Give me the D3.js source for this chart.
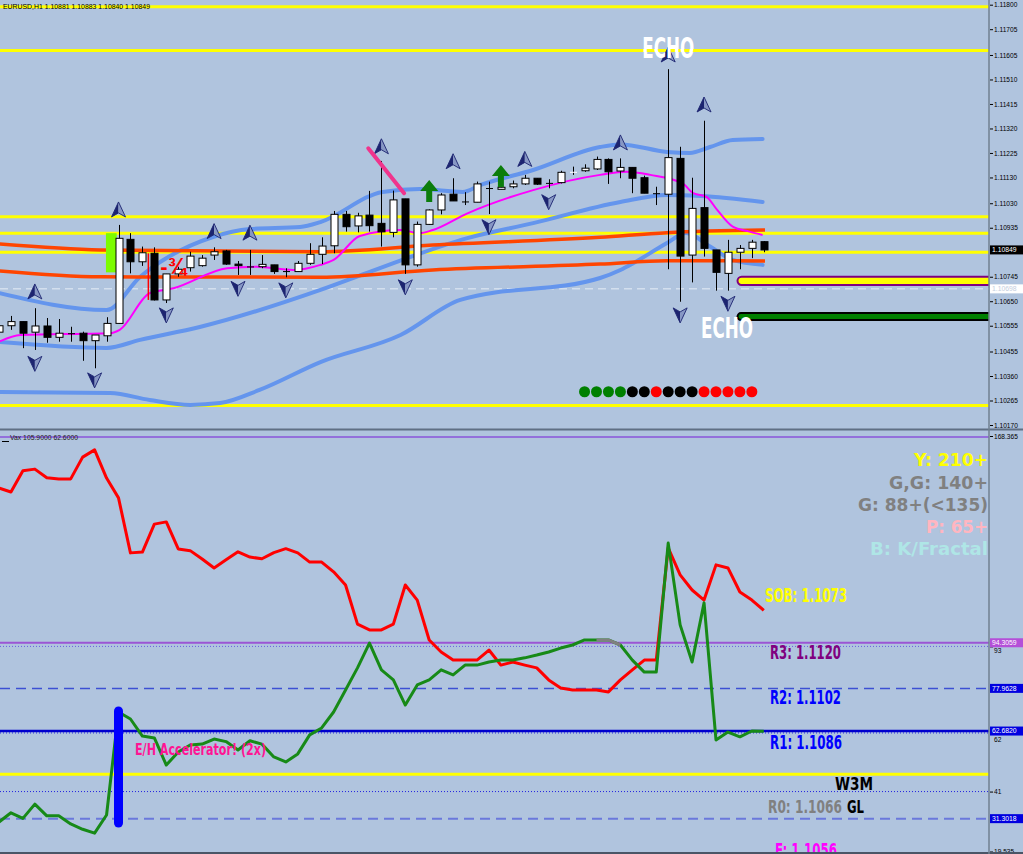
<!DOCTYPE html>
<html>
<head>
<meta charset="utf-8">
<title>EURUSD,H1</title>
<script src="https://cdn.jsdelivr.net/npm/d3@7/dist/d3.min.js"></script>
<style>
  html, body { margin: 0; padding: 0; background: #b0c4de; }
  svg { display: block; }
  .tick text { font-family: "Liberation Sans", Arial, sans-serif; font-size: 6.6px; fill: #000; }
  .tick line { stroke: #000; }
  .narrow { font-family: "Liberation Sans Narrow", "DejaVu Sans Condensed", "Arial Narrow", sans-serif; font-weight: bold; }
  .wide { font-family: "DejaVu Sans", Verdana, sans-serif; font-weight: bold; }
</style>
</head>
<body>
<svg id="chart" width="1023" height="854"></svg>
<script>
// ---- EURUSD H1 candles, oldest first ----
const opens  = [1.10530,1.10555,1.10571,1.10530,1.10554,1.10510,1.10526,1.10526,1.10497,1.10516,
                1.10564,1.10890,1.10803,1.10836,1.10655,1.10756,1.10780,1.10788,1.10829,1.10845,
                1.10794,1.10785,1.10784,1.10791,1.10767,1.10765,1.10797,1.10832,1.10865,1.10987,
                1.10942,1.10984,1.10952,1.10917,1.11047,1.10791,1.10948,1.11004,1.11065,1.11037,
                1.11034,1.11089,1.11084,1.11094,1.11105,1.11127,1.11109,1.11110,1.11149,1.11156,
                1.11163,1.11200,1.11155,1.11169,1.11129,1.11069,1.11065,1.11204,1.10829,1.11013,
                1.10849,1.10758,1.10840,1.10855,1.10881];
const highs  = [1.10569,1.10593,1.10571,1.10623,1.10585,1.10581,1.10551,1.10532,1.10519,1.10588,
                1.10946,1.10914,1.10862,1.10859,1.10756,1.10784,1.10842,1.10829,1.10859,1.10849,
                1.10806,1.10849,1.10829,1.10791,1.10778,1.10806,1.10875,1.10898,1.11000,1.11000,
                1.10993,1.11078,1.11194,1.11079,1.11047,1.10959,1.11006,1.11069,1.11127,1.11073,
                1.11114,1.11114,1.11101,1.11118,1.11140,1.11127,1.11123,1.11156,1.11172,1.11181,
                1.11211,1.11204,1.11204,1.11169,1.11137,1.11094,1.11550,1.11249,1.11129,1.11350,
                1.10849,1.10888,1.10868,1.10888,1.10883];
const lows   = [1.10519,1.10539,1.10468,1.10461,1.10489,1.10493,1.10493,1.10419,1.10390,1.10493,
                1.10563,1.10758,1.10787,1.10653,1.10643,1.10745,1.10765,1.10784,1.10810,1.10791,
                1.10752,1.10752,1.10778,1.10756,1.10743,1.10765,1.10791,1.10794,1.10836,1.10920,
                1.10917,1.10920,1.10862,1.10898,1.10756,1.10784,1.10946,1.10987,1.11039,1.11023,
                1.11034,1.10988,1.11084,1.11088,1.11101,1.11101,1.11088,1.11107,1.11140,1.11152,
                1.11159,1.11105,1.11127,1.11069,1.11069,1.11023,1.10774,1.10648,1.10723,1.10823,
                1.10691,1.10691,1.10774,1.10817,1.10840];
const closes = [1.10555,1.10571,1.10526,1.10554,1.10510,1.10526,1.10524,1.10497,1.10519,1.10564,
                1.10894,1.10803,1.10838,1.10655,1.10756,1.10774,1.10825,1.10817,1.10842,1.10794,
                1.10788,1.10784,1.10793,1.10765,1.10766,1.10797,1.10832,1.10864,1.10987,1.10939,
                1.10981,1.10943,1.10919,1.11043,1.10791,1.10948,1.11004,1.11062,1.11039,1.11036,
                1.11105,1.11088,1.11092,1.11105,1.11127,1.11104,1.11107,1.11150,1.11152,1.11166,
                1.11200,1.11152,1.11169,1.11127,1.11069,1.11067,1.11207,1.10825,1.11010,1.10855,
                1.10762,1.10840,1.10855,1.10879,1.10849];

// ---- indicator curves, read as (bar, price) samples ----
const bbUpperBar = [0,9,11.8,17.9,21,25.2,26.9,32.1,35.2,38.8,40.3,44.7,50.3,52,55.9,57.8,59.5,61.4,63.9];
const bbUpper    = [1.10682,1.10616,1.10744,1.10899,1.10930,1.10938,1.10957,1.11074,1.11085,1.11074,1.11101,1.11159,1.11248,1.11258,1.11229,1.11225,1.11248,1.11275,1.11279];
const bbMidBar   = [0,9,11.8,16.8,26.9,30.8,39.2,44.7,52,55.9,58.7,63.9];
const bbMid      = [1.10492,1.10469,1.10500,1.10550,1.10694,1.10760,1.10895,1.10953,1.11035,1.11062,1.11058,1.11035];
const bbLowerBar = [0,9.3,12.6,16,18.5,21.8,26.9,33.6,38.6,50.3,52,53.1,55.9,57.5,59.5,61.4,63.9];
const bbLower    = [1.10298,1.10294,1.10267,1.10248,1.10255,1.10306,1.10414,1.10519,1.10655,1.10740,1.10771,1.10798,1.10876,1.10915,1.10862,1.10810,1.10791];
const maBar      = [0,1.8,9.3,10.1,12.6,14.6,19.1,21.6,24.6,26.9,28,30.2,33.6,35.2,36.3,39.2,44.7,50.3,52.5,54.5,57.2,58.1,59.2,60.1,61.4,62.8,63.9];
const maFast     = [1.10493,1.10519,1.10526,1.10539,1.10681,1.10700,1.10778,1.10784,1.10771,1.10791,1.10810,1.10903,1.10926,1.10914,1.10926,1.10991,1.11081,1.11140,1.11152,1.11140,1.11107,1.11069,1.11055,1.11004,1.10939,1.10920,1.10907];
const envBar     = [0,8.5,26.9,36.3,50.3,55.9,64.1];
const envHigh    = [1.10872,1.10849,1.10842,1.10868,1.10898,1.10916,1.10926];
const envLow     = [1.10768,1.10745,1.10743,1.10771,1.10794,1.10807,1.10806];

// ---- levels and marks, upper panel ----
const yellowLevels = [1.11792,1.11622,1.10978,1.10914,1.10840,1.10246];
const dashedLevel = 1.10698;
const priceTicks = [1.11800,1.11705,1.11605,1.11510,1.11415,1.11320,1.11225,1.11130,1.11030,1.10935,
                    1.10745,1.10650,1.10555,1.10455,1.10360,1.10265,1.10170];
const upArrowBar   = [3,10,18,21,32,38,44,52,56,59];
const upArrowPrice = [1.10686,1.11004,1.10920,1.10914,1.11249,1.11191,1.11200,1.11264,1.11605,1.11411];
const dnArrowBar   = [3,8,14,20,24,34,41,46,57,61];
const dnArrowPrice = [1.10409,1.10345,1.10597,1.10700,1.10694,1.10706,1.10939,1.11036,1.10597,1.10642];
const greenArrowBar   = [36,42];
const greenArrowPrice = [1.11120,1.11178];
const dotBars   = d3.range(49, 64);
const dotColors = ['g','g','g','g','k','k','r','k','k','k','r','r','r','r','r'];
const dotPrice  = 1.10299;

// ---- lower panel (Vax) ----
const redVax = [149.7,148.3,155.9,156.5,153.4,153.0,153.0,160.8,163.4,153.3,
                146.2,126.5,126.8,136.8,137.6,127.9,127.3,124.3,121.1,124.0,
                126.9,125.0,124.4,126.6,128.0,126.5,123.2,123.2,119.7,115.0,
                101.0,98.9,98.9,101.0,115.0,109.6,95.3,91.0,88.1,88.1,
                88.1,91.7,86.3,87.4,86.3,85.3,81.0,78.1,77.4,77.4,
                77.4,76.7,81.0,84.6,88.1,88.1,128.3,118.6,113.2,109.6,
                122.2,121.1,112.5,109.6,105.9];
const greenVax = [30.1,33.4,31.4,36.5,32.3,32.3,29.4,27.5,26.1,32.6,
                  69.5,67.0,60.9,60.2,50.5,55.2,57.7,58.0,59.8,58.9,
                  55.9,59.2,58.0,53.4,51.6,54.5,61.3,63.8,69.5,77.4,
                  85.3,94.2,84.6,81.0,72.0,79.2,81.0,84.6,82.8,86.3,
                  86.3,87.4,88.1,88.1,88.9,89.9,91.0,92.4,93.5,95.3,
                  95.3,95.3,93.5,88.1,83.8,83.8,130.0,100.7,87.4,108.6,
                  59.5,62.3,60.6,62.7,62.6];
const grayFrom = 50, grayTo = 52;
const vaxTicks = [168.365,93,62,41,19.535];
const vaxMarks = [94.3059,77.9628,62.6820,31.3018];
const vaxMarkColors = ['#b44fd8','#0000e0','#0000e0','#0000e0'];
const accelBar = 10, accelTop = 69.9, accelBottom = 29.7;

const W = 1023, H = 854, axisX = 989;
const svg = d3.select('#chart');
const x  = d3.scaleLinear().domain([0, 64]).range([-1, 763.8]);
const yP = d3.scaleLinear().domain([1.10170, 1.11800]).range([425, 4.7]);
const yV = d3.scaleLinear().domain([19.535, 168.365]).range([851.5, 436]);

svg.append('rect').attr('width', W).attr('height', H).attr('fill', '#b0c4de');

const defs = svg.append('defs');
defs.append('clipPath').attr('id', 'clipTop').append('rect').attr('width', axisX).attr('height', 429);
defs.append('clipPath').attr('id', 'clipBot').append('rect').attr('y', 431).attr('width', axisX).attr('height', H - 431);

const up = svg.append('g').attr('clip-path', 'url(#clipTop)');
const bot = svg.append('g').attr('clip-path', 'url(#clipBot)');

const curve = (bars, vals, ys) => d3.line().x((d, k) => x(bars[k])).y(d => ys(d)).curve(d3.curveMonotoneX)(vals);

// ================= upper panel =================
up.selectAll('.ylev').data(yellowLevels).join('line')
  .attr('x1', 0).attr('x2', axisX).attr('y1', d => yP(d)).attr('y2', d => yP(d))
  .attr('stroke', '#ffff00').attr('stroke-width', 3);

up.append('line').attr('x1', 0).attr('x2', axisX)
  .attr('y1', yP(dashedLevel)).attr('y2', yP(dashedLevel))
  .attr('stroke', '#e6edf6').attr('stroke-width', 1).attr('stroke-dasharray', '8,5');

// bollinger bands
[[bbUpperBar, bbUpper], [bbMidBar, bbMid], [bbLowerBar, bbLower]].forEach(([b, v]) => {
  up.append('path').attr('d', curve(b, v, yP)).attr('fill', 'none')
    .attr('stroke', '#6495ed').attr('stroke-width', 4).attr('stroke-linecap', 'round');
});
// envelope
[envHigh, envLow].forEach(v => {
  up.append('path').attr('d', curve(envBar, v, yP)).attr('fill', 'none')
    .attr('stroke', '#ff4500').attr('stroke-width', 3.5);
});

// lime box behind the breakout bar
up.append('rect').attr('x', x(8.95)).attr('width', x(9.85) - x(8.95))
  .attr('y', yP(1.10914)).attr('height', yP(1.10762) - yP(1.10914)).attr('fill', '#7cfc00');

// fast MA
up.append('path').attr('d', curve(maBar, maFast, yP)).attr('fill', 'none')
  .attr('stroke', '#ff00ff').attr('stroke-width', 2);

// pills on the right
function pill(b, pTop, pBot, fill, stroke) {
  const y0 = yP(pTop), y1 = yP(pBot);
  up.append('rect').attr('x', x(b)).attr('y', y0).attr('width', axisX + 20 - x(b)).attr('height', y1 - y0)
    .attr('rx', (y1 - y0) / 2).attr('fill', fill).attr('stroke', stroke).attr('stroke-width', 2);
}
pill(61.8, 1.10745, 1.10713, '#ffff00', '#800080');
pill(61.8, 1.10604, 1.10577, '#008000', '#000000');

// candles
const candles = d3.range(opens.length).map(i => ({ i, o: opens[i], h: highs[i], l: lows[i], c: closes[i] }));
const cx = i => Math.round(x(i)) + 0.5;
up.selectAll('.wick').data(candles).join('line')
  .attr('x1', d => cx(d.i)).attr('x2', d => cx(d.i))
  .attr('y1', d => yP(d.h)).attr('y2', d => yP(d.l))
  .attr('stroke', '#000').attr('stroke-width', 1);
up.selectAll('.body').data(candles).join('rect')
  .attr('x', d => cx(d.i) - 3.5).attr('width', 7)
  .attr('y', d => yP(Math.max(d.o, d.c)))
  .attr('height', d => Math.max(1, Math.abs(yP(d.o) - yP(d.c))))
  .attr('fill', d => d.c > d.o ? '#ffffff' : '#000000')
  .attr('stroke', '#000').attr('stroke-width', d => Math.abs(d.c - d.o) < 0.00004 ? 0 : 1);

// fractal arrows
function navArrow(bx, py, dir) {
  const g = up.append('g').attr('transform', `translate(${x(bx)},${yP(py)}) scale(1,${dir})`);
  g.append('path').attr('d', 'M0,-8 L-7,7 L0,3 Z').attr('fill', '#1c2470');
  g.append('path').attr('d', 'M0,-8 L7,7 L0,3 Z').attr('fill', '#8797c4');
  g.append('path').attr('d', 'M0,-8 L7,7 L0,3 L-7,7 Z').attr('fill', 'none').attr('stroke', '#1c2470').attr('stroke-width', 0.9);
}
upArrowBar.forEach((b, k) => navArrow(b, upArrowPrice[k], 1));
dnArrowBar.forEach((b, k) => navArrow(b, dnArrowPrice[k], -1));

greenArrowBar.forEach((b, k) => {
  up.append('path').attr('transform', `translate(${x(b)},${yP(greenArrowPrice[k])})`)
    .attr('d', 'M0,0 L9,11 L3,11 L3,22 L-3,22 L-3,11 L-9,11 Z').attr('fill', '#0b7d0b');
});

// pink slash
up.append('line').attr('x1', x(30.9)).attr('y1', yP(1.11243)).attr('x2', x(33.9)).attr('y2', yP(1.11069))
  .attr('stroke', '#f0348c').attr('stroke-width', 4).attr('stroke-linecap', 'round');

// red -3/4 mark
up.append('line').attr('x1', x(13) - 6).attr('x2', x(13) - 6).attr('y1', yP(1.10836)).attr('y2', yP(1.10655))
  .attr('stroke', '#ff0000').attr('stroke-width', 1.5);
up.append('text').attr('x', x(13) + 6).attr('y', yP(1.10756)).text('-¾')
  .attr('font-family', 'Liberation Sans, Arial, sans-serif').attr('font-weight', 'bold')
  .attr('font-size', 22).attr('fill', '#ff0000');

// signal dots
const dotFill = { g: '#008000', k: '#000000', r: '#ff0000' };
up.selectAll('.dot').data(dotBars).join('circle')
  .attr('cx', d => x(d)).attr('cy', yP(dotPrice)).attr('r', 5.5)
  .attr('fill', (d, k) => dotFill[dotColors[k]]);

// ECHO labels
up.append('text').attr('class', 'narrow').attr('x', x(56)).attr('y', 58.3).attr('text-anchor', 'middle')
  .attr('font-size', 29).attr('fill', '#fff').attr('textLength', 52).attr('lengthAdjust', 'spacingAndGlyphs').text('ECHO');
up.append('text').attr('class', 'narrow').attr('x', x(61) - 1).attr('y', 338.3).attr('text-anchor', 'middle')
  .attr('font-size', 28).attr('fill', '#fff').attr('textLength', 52).attr('lengthAdjust', 'spacingAndGlyphs').text('ECHO');

up.append('text').attr('x', 3).attr('y', 9).attr('font-family', 'Liberation Sans, Arial, sans-serif')
  .attr('font-size', 7.5).attr('fill', '#000').attr('textLength', 147).attr('lengthAdjust', 'spacingAndGlyphs')
  .text('EURUSD,H1  1.10881 1.10883 1.10840 1.10849');

// ================= lower panel =================
const vLine = (v, color, w, dash) => bot.append('line').attr('x1', 0).attr('x2', axisX)
  .attr('y1', yV(v)).attr('y2', yV(v)).attr('stroke', color).attr('stroke-width', w)
  .attr('stroke-dasharray', dash || null);
vLine(168.0, '#9370db', 2);
vLine(94.3059, '#9b55d4', 2);
vLine(93, '#6a5ae0', 1, '1,2');
vLine(77.9628, '#3c50d4', 1.5, '10,6');
vLine(62.6820, '#0000cd', 2.5);
vLine(62, '#1a1ae0', 1, '1,2');
vLine(47.2, '#ffff00', 3);
vLine(41, '#2020e0', 1, '1,2');
vLine(31.3018, '#6a78dc', 2, '10,6');

const vaxLine = vals => d3.line().x((d, i) => x(i)).y(d => yV(d))(vals);
bot.append('path').attr('d', vaxLine(redVax)).attr('fill', 'none').attr('stroke', '#ff0000').attr('stroke-width', 3).attr('stroke-linejoin', 'round');
bot.append('path').attr('d', vaxLine(greenVax)).attr('fill', 'none').attr('stroke', '#178a17').attr('stroke-width', 3).attr('stroke-linejoin', 'round');
const grayIdx = d3.range(grayFrom, grayTo + 1);
bot.append('path').attr('d', d3.line().x(i => x(i)).y(i => yV(greenVax[i]))(grayIdx))
  .attr('fill', 'none').attr('stroke', '#808080').attr('stroke-width', 3);

bot.append('line').attr('x1', x(accelBar)).attr('x2', x(accelBar))
  .attr('y1', yV(accelTop)).attr('y2', yV(accelBottom))
  .attr('stroke', '#0000ff').attr('stroke-width', 9).attr('stroke-linecap', 'round');

bot.append('text').attr('class', 'narrow').attr('x', 135).attr('y', 755).attr('font-size', 16)
  .attr('fill', '#ff1493').attr('textLength', 131).attr('lengthAdjust', 'spacingAndGlyphs').text('E/H Accelerator! (2x)');

bot.append('line').attr('x1', 2).attr('x2', 9).attr('y1', 441.5).attr('y2', 441.5).attr('stroke', '#000');
bot.append('text').attr('x', 10).attr('y', 440).attr('font-family', 'Liberation Sans, Arial, sans-serif')
  .attr('font-size', 7).attr('fill', '#202020').attr('textLength', 68).attr('lengthAdjust', 'spacingAndGlyphs')
  .text('Vax 105.9000 62.6000');

// right hand legend
const legendText = ['Y: 210+', 'G,G: 140+', 'G: 88+(<135)', 'P: 65+', 'B: K/Fractal'];
const legendColor = ['#ffff00', '#808080', '#808080', '#ffb6c1', '#afe6e6'];
const legendWidth = [74, 99, 130, 62, 118];
const legendBase = [466, 488.5, 510.5, 533, 555];
legendText.forEach((t, k) => {
  bot.append('text').attr('class', 'wide').attr('x', 988).attr('y', legendBase[k]).attr('text-anchor', 'end')
    .attr('font-size', 17).attr('fill', legendColor[k]).attr('textLength', legendWidth[k])
    .attr('lengthAdjust', 'spacingAndGlyphs').text(t);
});

// pivot labels
const pivLabel = (t, xx, yy, w, color, fs) => bot.append('text').attr('class', 'narrow')
  .attr('x', xx).attr('y', yy).attr('font-size', fs || 19).attr('fill', color)
  .attr('textLength', w).attr('lengthAdjust', 'spacingAndGlyphs').text(t);
pivLabel('SOB: 1.1073', 765, 602, 82, '#ffff00');
pivLabel('R3: 1.1120', 770, 659, 71, '#800080');
pivLabel('R2: 1.1102', 770, 704, 71, '#0000ff');
pivLabel('R1: 1.1086', 770, 749, 72, '#0000ff');
pivLabel('W3M', 835, 789.5, 38, '#000000', 18);
pivLabel('F: 1.1056', 775, 857, 62, '#ff00ff');
// R0 and GL sit close together: smaller font stretched tall keeps their boxes apart
const tallLabel = (t, xx, yy, w, color) => bot.append('g')
  .attr('transform', `translate(${xx},${yy}) scale(1,1.3)`)
  .append('text').attr('class', 'narrow').attr('font-size', 13.8).attr('fill', color)
  .attr('textLength', w).attr('lengthAdjust', 'spacingAndGlyphs').text(t);
tallLabel('R0: 1.1066', 768, 812.5, 74, '#808080');
tallLabel('GL', 847, 812.5, 17, '#000000');

// ================= axes =================
svg.append('g').attr('transform', `translate(${axisX + 1},0)`)
  .call(d3.axisRight(yP).tickValues(priceTicks).tickFormat(d3.format('.5f')).tickSize(3).tickPadding(1))
  .call(g => g.select('.domain').remove());
const vaxShift = { 93: 4, 62: 6.5 };
svg.append('g').attr('transform', `translate(${axisX + 1},0)`)
  .call(d3.axisRight(yV).tickValues(vaxTicks).tickFormat(d => Number.isInteger(d) ? d : d3.format('.3f')(d)).tickSize(3).tickPadding(1))
  .call(g => g.select('.domain').remove())
  .call(g => g.selectAll('.tick text').attr('dy', d => (0.32 + (vaxShift[d] || 0) / 6.6) + 'em'));

// value tags on axis
const tag = (yy, label, bg, fg) => {
  svg.append('rect').attr('x', axisX + 1).attr('y', yy - 4.5).attr('width', 33).attr('height', 9).attr('fill', bg);
  svg.append('text').attr('x', axisX + 3).attr('y', yy + 2.4).attr('font-family', 'Liberation Sans, Arial, sans-serif')
    .attr('font-size', 6.8).attr('fill', fg).text(label);
};
tag(yP(closes[closes.length - 1]), d3.format('.5f')(closes[closes.length - 1]), '#000000', '#ffffff');
tag(yP(dashedLevel), d3.format('.5f')(dashedLevel), '#ffffff', '#c4cede');
vaxMarks.forEach((v, k) => tag(yV(v), d3.format('.4f')(v), vaxMarkColors[k], '#ffffff'));

// separators and axis line
svg.append('line').attr('x1', 0).attr('x2', W).attr('y1', 429.5).attr('y2', 429.5).attr('stroke', '#5f6f84').attr('stroke-width', 2);
svg.append('line').attr('x1', 0).attr('x2', W).attr('y1', 853).attr('y2', 853).attr('stroke', '#4a5566').attr('stroke-width', 2);
svg.append('line').attr('x1', axisX).attr('x2', axisX).attr('y1', 0).attr('y2', H).attr('stroke', '#708090').attr('stroke-width', 1.5);
</script>
</body>
</html>
